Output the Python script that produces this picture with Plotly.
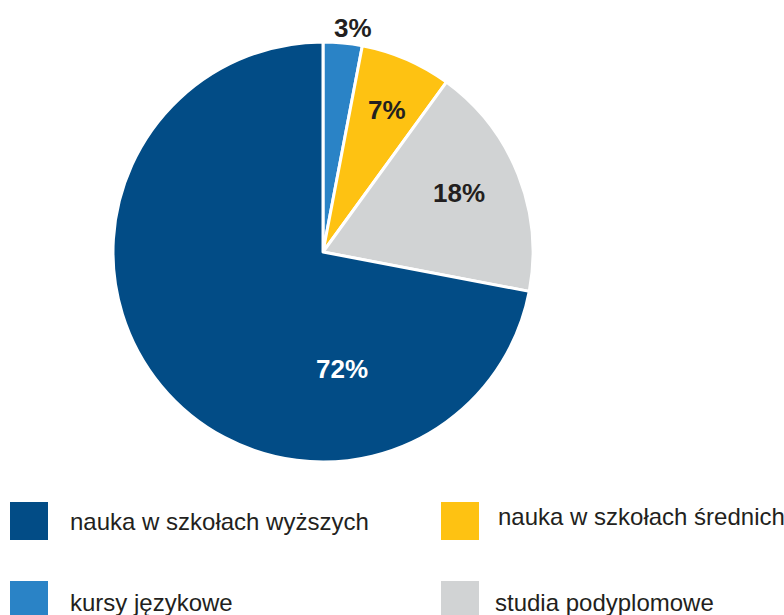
import plotly.graph_objects as go

# Forms of education / training and their shares (%)
categories = [
    "kursy językowe",
    "nauka w szkołach średnich",
    "studia podyplomowe",
    "nauka w szkołach wyższych",
]
shares = [3, 7, 18, 72]
colors = ["#2a83c6", "#fec212", "#d1d3d4", "#024c86"]
text_colors = ["#231f20", "#231f20", "#231f20", "#ffffff"]

# Pixel centres of the percentage labels
label_pos = [(353, 28), (387, 110), (459, 193), (342, 369)]

# Legend layout: order of entries in the 2x2 grid (column-major)
legend_order = [
    "nauka w szkołach wyższych",
    "kursy językowe",
    "nauka w szkołach średnich",
    "studia podyplomowe",
]

W, H = 784, 615
FONT = "Liberation Sans, Arial, Helvetica, sans-serif"


def px_x(x):
    return x / W


def px_y(y):
    return 1 - y / H


fig = go.Figure(
    go.Pie(
        labels=categories,
        values=shares,
        sort=False,
        direction="clockwise",
        rotation=0,
        marker=dict(colors=colors, line=dict(color="#ffffff", width=3)),
        textinfo="none",
        showlegend=False,
        hoverinfo="label+percent",
        domain=dict(x=[px_x(113), px_x(533)], y=[px_y(462), px_y(42)]),
    )
)

annotations = []
# Percentage labels
for val, col, (lx, ly) in zip(shares, text_colors, label_pos):
    annotations.append(dict(text=f"<b>{val}%</b>", xref="paper", yref="paper",
                            x=px_x(lx), y=px_y(ly), xanchor="center", yanchor="middle",
                            showarrow=False,
                            font=dict(family=FONT, size=26, color=col)))

# Hand-placed legend: coloured squares with labels
slots = [(10, 502, 68, 521), (10, 581, 68, 602), (441, 502, 496, 516), (441, 581, 493, 602)]
shapes = []
for name, (sx, sy, tx, ty) in zip(legend_order, slots):
    c = colors[categories.index(name)]
    shapes.append(dict(type="rect", xref="paper", yref="paper",
                       x0=px_x(sx), x1=px_x(sx + 38), y0=px_y(sy + 38), y1=px_y(sy),
                       fillcolor=c, line=dict(width=0)))
    annotations.append(dict(text=name, xref="paper", yref="paper",
                            x=px_x(tx), y=px_y(ty), xanchor="left", yanchor="middle",
                            showarrow=False,
                            font=dict(family=FONT, size=24, color="#231f20")))

fig.update_layout(
    width=W, height=H,
    margin=dict(l=0, r=0, t=0, b=0),
    paper_bgcolor="#ffffff",
    plot_bgcolor="#ffffff",
    shapes=shapes,
    annotations=annotations,
)

fig.write_html("out.html")
